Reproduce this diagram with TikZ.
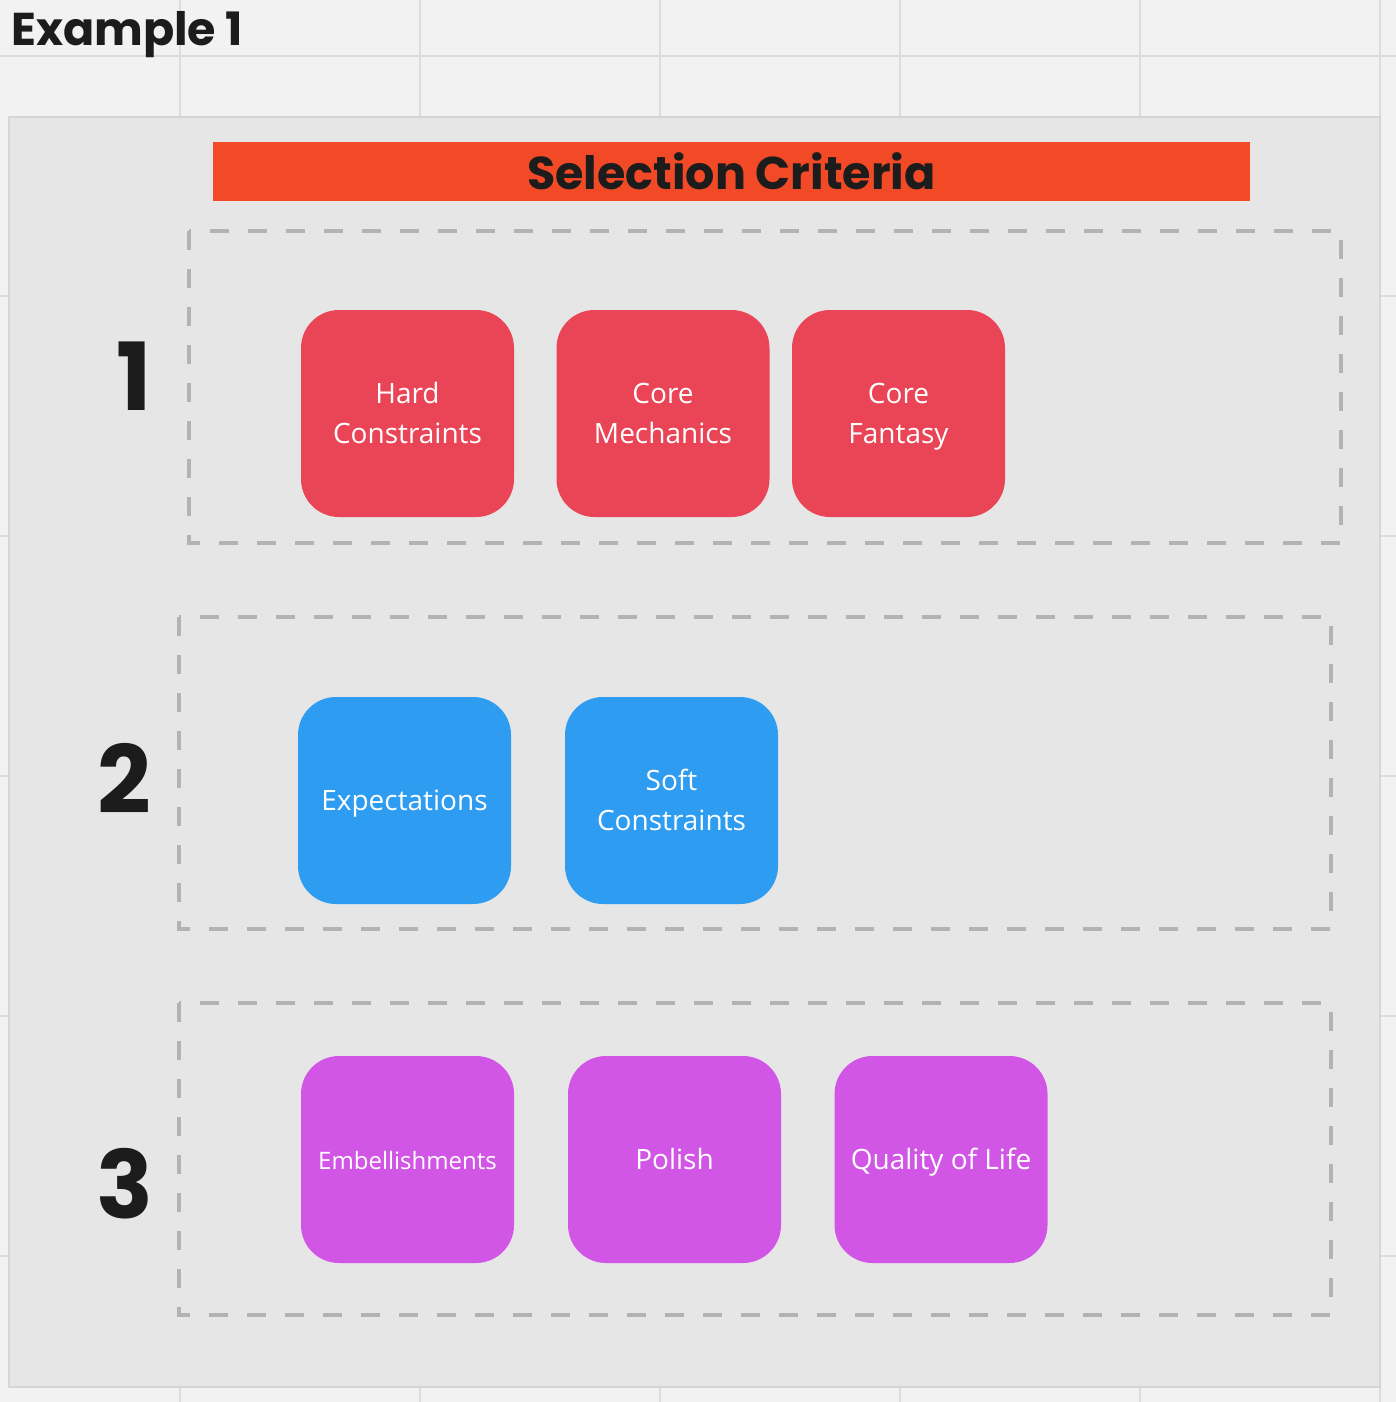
\documentclass[tikz,border=0pt]{standalone}
\usepackage{fontspec}
\setmainfont{Open Sans}
\newfontfamily\headfont{Poppins}
\definecolor{bgc}{HTML}{F2F2F2}
\definecolor{gridc}{HTML}{DCDCDC}
\definecolor{panelc}{HTML}{E6E6E6}
\definecolor{panelb}{HTML}{D6D6D6}
\definecolor{dashc}{HTML}{B3B3B3}
\definecolor{corange}{HTML}{F24A27}
\definecolor{cred}{HTML}{EA4557}
\definecolor{cblue}{HTML}{2E9CF0}
\definecolor{cpurple}{HTML}{D156E6}
\definecolor{inkc}{HTML}{1C1C1C}
\newcommand\cardstrut{\rule[-10.25pt]{0pt}{40.5pt}}
\tikzset{
  card/.style={rounded corners=38pt, minimum width=213pt, minimum height=207pt, inner sep=0pt,
    align=center, text=white, font=\fontsize{28}{40.5}\selectfont},
  dashbox/.style={draw=dashc, line width=4pt, dash pattern=on 19pt off 19pt},
  numlabel/.style={text=inkc, font=\headfont\bfseries\fontsize{94}{94}\selectfont, inner sep=0pt},
}
\begin{document}
\begin{tikzpicture}[x=1pt,y=-1pt]
\useasboundingbox (0,0) rectangle (1396,1402);
\fill[bgc] (0,0) rectangle (1396,1402);
% grid
\foreach \gx in {180,420,660,900,1140,1380}
  \draw[gridc, line width=2pt] (\gx,0) -- (\gx,1402);
\foreach \gy in {56,296,536,776,1016,1256}
  \draw[gridc, line width=2pt] (0,\gy) -- (1396,\gy);
% panel
\draw[fill=panelc, draw=panelb, line width=2pt] (9,117) rectangle (1380,1387);
% heading
\node[anchor=base west, text=inkc, font=\headfont\bfseries\fontsize{46}{46}\selectfont, inner sep=0pt] (example) at (11,46) {Example 1};
\node[fill=corange, minimum width=1037pt, minimum height=59pt, inner sep=0pt, text=inkc,
  font=\headfont\bfseries\fontsize{46}{46}\selectfont] (title) at (731.5,171.5) {Selection Criteria};
% dashed groups
\draw[dashbox] (189,231) rectangle (1341,543);
\draw[dashbox] (179,617) rectangle (1331,929);
\draw[dashbox] (179,1003) rectangle (1331,1315);
% numbers
\node[numlabel] (n1) at (134.5,376.5) {1};
\node[numlabel] (n2) at (124.5,778.5) {2};
\node[numlabel] (n3) at (125,1183.5) {3};
% row 1
\node[card, fill=cred] (hard) at (407.5,413.5) {\cardstrut Hard\\\cardstrut Constraints};
\node[card, fill=cred] (mech) at (663,413.5) {\cardstrut Core\\\cardstrut Mechanics};
\node[card, fill=cred] (fant) at (898.5,413.5) {\cardstrut Core\\\cardstrut Fantasy};
% row 2
\node[card, fill=cblue] (expe) at (404.5,800.5) {\cardstrut Expectations};
\node[card, fill=cblue] (soft) at (671.5,800.5) {\cardstrut Soft\\\cardstrut Constraints};
% row 3
\node[card, fill=cpurple, font=\fontsize{24}{34.7}\selectfont] (embe) at (407.5,1159.5) {\cardstrut Embellishments};
\node[card, fill=cpurple] (poli) at (674.5,1159.5) {\cardstrut Polish};
\node[card, fill=cpurple] (qual) at (941,1159.5) {\cardstrut Quality of Life};
\end{tikzpicture}
\end{document}
